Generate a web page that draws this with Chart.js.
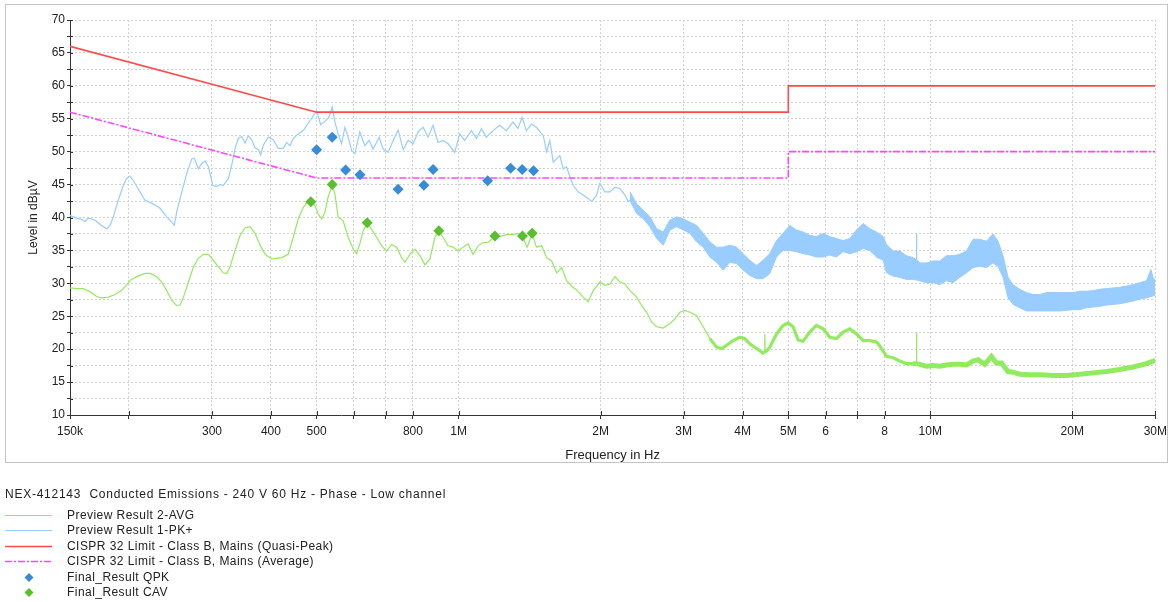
<!DOCTYPE html>
<html><head><meta charset="utf-8">
<script src="https://cdn.jsdelivr.net/npm/chart.js@4.4.1/dist/chart.umd.min.js"></script>
<style>
html,body{margin:0;padding:0;background:#fff;}
#wrap{position:relative;width:1172px;height:602px;overflow:hidden;background:#fff;}
canvas{position:absolute;left:0;top:0;}
.lg{position:absolute;font-family:"Liberation Sans",Arial,sans-serif;font-size:12px;color:#222;line-height:14px;white-space:pre;letter-spacing:0.45px;}
.lg.t{letter-spacing:0.75px;}
.sw{position:absolute;}
</style></head><body>
<div id="wrap"><canvas id="c" width="1172" height="602"></canvas></div>
<script>
// ---------- data (frequencies in kHz, levels in dBµV) ----------
const xTickValues = [150,200,300,400,500,600,700,800,1000,2000,3000,4000,5000,6000,7000,8000,10000,20000,30000];
const xTickLabels = ['150k','','300','400','500','','','800','1M','2M','3M','4M','5M','6','','8','10M','20M','30M'];

const freqPk = [150,155,158.8,161.4,164,168,170.8,175,179.5,182.4,185.4,189.4,194.2,197.5,200.7,204,209,216.3,221.7,227.2,232.8,240.5,246.5,249.6,252.6,258.9,265.3,271.8,275.3,280.7,285.5,290.1,294.8,301.1,307,312,317.1,324.9,330.4,335.8,341.2,346.9,352.5,358.3,364.3,370.2,376.2,380.6,385.5,394.9,404.7,414.6,424.9,432,438.9,446.1,453.6,468.4,483.9,495.9,500,509.9,520.7,531.7,539.5,546.6,555.5,564.7,573.9,583.2,593,602.6,617.4,632.6,646.1,658.8,678.4,691.8,708.9,726.4,744.3,762.7,781.5,800.8,820.6,840.9,861.4,882.6,904.4,926.8,949.7,981.2,1005,1030,1065,1091,1118,1145,1183,1222,1263,1304,1336,1363,1392,1427,1462,1500,1511,1536,1561,1587,1613,1639,1666,1694,1722,1749,1792,1837,1883,1914,1961,1993,2042,2093,2145,2198,2253,2288,2345];
const levelPk = [40.3,39.9,39.7,39.4,39.9,39.7,39.4,38.8,38.3,38.8,40.1,42.4,44.7,45.9,46.3,45.7,44.4,42.6,42.3,41.9,41.4,40.1,39.3,38.8,40.9,43.9,46.7,48.9,49.0,47.4,48.2,48.6,47.7,44.9,44.7,45.0,44.9,45.9,48.0,50.5,52.0,52.3,51.3,52.4,51.8,50.6,50.3,49.5,51.0,52.2,51.8,50.5,50.5,51.4,50.9,52.0,52.5,53.2,54.7,55.8,56.2,54.1,54.6,55.3,56.8,54.5,52.7,51.2,53.7,52.2,50.2,49.7,53.0,50.9,51.7,50.4,52.2,50.4,49.9,51.7,53.3,50.3,51.7,51.2,53.0,53.7,52.2,54.0,51.4,51.7,51.2,49.9,52.7,51.7,53.2,52.0,53.5,52.2,53.2,54.0,53.2,54.5,53.5,55.2,53.2,54.2,53.7,52.7,52.5,50.0,51.7,48.4,48.9,49.4,47.4,47.7,46.2,44.9,43.9,43.4,42.9,42.4,43.4,45.2,43.9,43.9,44.6,44.4,43.4,42.4,43.1];

const freqBand = [2308,2385,2463,2545,2630,2716,2805,2899,2994,3093,3196,3300,3410,3523,3638,3759,3884,4011,4143,4281,4421,4568,4720,4874,5036,5204,5373,5552,5737,5925,6122,6326,6534,6751,6976,7204,7444,7691,7944,8077,8339,8616,8902,9194,9340,9350,9360,9500,9816,10137,10473,10821,11176,11548,11931,12322,12731,13154,13584,13920,14264,14617,14978,15476,15990,16515,17064,17631,18209,18815,19440,20077,20745,21435,22137,22873,23634,24408,25220,26058,26912,27806,28730,29360,29672,30000];
const bandHi = [43.9,42.1,41.1,40.1,38.3,37.8,39.6,40.1,39.8,39.3,38.8,37.6,36.3,35.5,35.5,35.8,35.5,34.5,33.5,32.7,33.5,34.5,36.5,37.6,38.8,38.1,37.8,37.3,37.1,37.6,37.1,36.8,36.5,36.8,38.1,39.1,38.3,37.8,37.1,35.9,34.9,34.9,34.2,33.9,33.6,37.6,33.6,33.1,33.1,33.4,33.4,34.2,34.2,34.4,34.9,36.7,36.7,36.4,37.5,36.4,34.2,30.9,29.8,29.1,28.6,28.3,28.3,28.6,28.6,28.6,28.6,28.6,28.8,28.8,28.9,29.1,29.2,29.3,29.4,29.6,29.8,30.1,30.4,32.1,30.9,30.4];
const bandLo = [42.6,40.6,39.8,38.6,36.8,35.8,38.1,38.6,38.1,37.6,36.3,35.5,34.0,33.2,32.0,33.2,33.0,32.0,31.2,30.7,30.7,31.5,34.0,35.0,35.0,34.8,34.5,34.3,34.0,34.0,34.3,34.0,34.8,34.5,34.8,35.3,35.0,34.0,33.5,31.6,31.1,30.9,30.6,30.6,30.5,30.5,30.5,30.4,30.1,30.1,29.8,30.4,30.1,30.9,31.6,32.4,32.6,32.4,33.1,32.6,30.9,27.8,26.8,26.3,25.8,25.8,25.8,25.8,25.8,25.8,25.9,26.0,26.0,26.3,26.4,26.5,26.7,26.8,26.9,27.1,27.3,27.6,27.8,28.0,28.1,28.1];

const freqAvg = [150,155,160.1,165.4,170.8,175,180.9,186.9,192.7,197.5,202.3,209,216.3,221.7,229.1,234.7,240.5,246.5,252.6,256.8,261,267.4,274,280.7,287.7,294.8,302.1,309.5,317.1,322.4,327.7,335.8,344.2,352.5,361.3,370.2,379.4,388.8,401.6,411.5,421.6,435.2,446.1,457.1,468.4,480,486.3,495.9,504,512.4,520.7,528.8,539.5,546.6,555.5,569.2,583.2,597.9,607.9,617.4,627.8,640.1,654,670.2,686.7,703.7,721.1,738.9,757.2,769.5,788.5,807.9,827.9,848.3,869.3,890.8,908.4,926.8,949.7,973.2,997.3,1021.9,1047,1073,1100,1127,1155,1193,1222,1263,1304,1336,1366,1397,1432,1462,1500,1537,1575,1614,1654,1694,1736,1779,1837,1883,1929,1993,2042,2093,2145,2198,2253,2308,2385,2444,2504,2567,2630,2716,2805,2875,2946,3019,3093,3196,3300,3410,3523,3610,3699,3820,3947,4044,4143,4281,4421,4450,4458,4466,4568,4720,4874,4995,5118,5245,5373,5552,5737,5925,6122,6326,6534,6751,6976,7204,7444,7691,7817,8077,8339,8616,8902,9194,9340,9350,9360,9500,9816,10137,10473,10821,11176,11548,11931,12322,12626,13046,13479,13812,14153,14617,14978,15476,16250,17064,18209,19440,20745,22137,23634,25220,26912,28730,30000];
const levelAvg = [29.3,29.2,29.2,28.7,28.0,27.8,27.9,28.3,28.9,29.7,30.6,31.1,31.5,31.5,31.0,30.2,28.9,27.4,26.6,26.7,27.9,30.2,32.5,33.8,34.4,34.4,33.5,32.5,31.6,31.5,32.5,35.0,37.3,38.4,38.6,37.6,35.8,34.4,33.7,33.8,33.9,34.4,37.0,39.8,41.5,42.6,42.4,41.8,40.5,39.8,40.8,43.1,44.9,43.6,40.0,39.5,37.0,35.2,34.5,36.0,38.0,39.2,38.2,37.0,35.7,34.9,35.9,35.5,33.9,33.2,34.4,35.2,34.2,32.8,33.7,37.0,37.9,37.0,35.7,35.5,34.9,35.5,36.0,34.4,35.7,36.2,36.2,37.1,37.1,37.4,37.4,37.6,37.1,35.5,37.5,35.5,35.7,33.9,33.4,31.6,32.4,30.4,29.6,29.0,27.9,27.2,28.9,30.2,29.7,29.9,31.0,30.2,29.9,28.9,27.9,26.6,25.6,24.1,23.4,23.2,23.9,24.6,25.6,25.9,25.6,25.1,23.4,21.6,20.3,20.1,20.6,21.3,21.8,21.6,20.8,20.1,19.4,19.5,22.3,19.5,20.3,22.3,23.6,24.0,23.4,21.4,21.2,22.6,23.6,23.1,21.8,21.6,22.6,23.1,22.3,21.3,21.3,21.1,20.5,18.9,18.7,18.2,17.8,17.8,17.8,22.5,17.8,17.7,17.4,17.5,17.4,17.6,17.7,17.7,17.6,18.2,18.4,17.7,18.9,17.9,17.9,16.6,16.5,16.2,16.1,16.1,16.0,16.0,16.2,16.4,16.6,16.9,17.3,17.8,18.3];

const limitFreq = [150,500,5000,5000,30000];
const qpLimit = [66,56,56,60,60];
const avLimit = [56,46,46,50,50];

const qpkFreq = [500,539.5,576,618,744,844,883,1152,1289,1364,1442];
const qpkLevel = [50.3,52.2,47.2,46.5,44.3,44.9,47.3,45.6,47.5,47.3,47.1];
const cavFreq = [486,539.5,640,908,1194,1366,1432];
const cavLevel = [42.4,45.0,39.2,38.0,37.2,37.2,37.6];

const legendTitle = 'NEX-412143  Conducted Emissions - 240 V 60 Hz - Phase - Low channel';
const legendLabels = ['Preview Result 2-AVG','Preview Result 1-PK+','CISPR 32 Limit - Class B, Mains (Quasi-Peak)','CISPR 32 Limit - Class B, Mains (Average)','Final_Result QPK','Final_Result CAV'];

// ---------- styles ----------
const C_PK = 'rgb(153,204,255)';
const C_AVG = 'rgb(145,235,95)';
const C_RED = 'rgb(255,75,75)';
const C_MAG = 'rgb(255,70,255)';
const C_QPK = 'rgb(55,140,215)';
const C_CAV = 'rgb(90,190,45)';
const FONT = '"Liberation Sans", Arial, sans-serif';

const pts = (f, v) => f.map((k, i) => ({x: k * 1000, y: v[i]}));

Chart.defaults.font.family = FONT;
Chart.defaults.color = '#222';

const boxPlugin = {
  id: 'box',
  beforeDraw(chart) {
    const c = chart.ctx;
    c.save();
    c.fillStyle = '#fff';
    c.fillRect(0, 0, chart.width, chart.height);
    c.strokeStyle = '#c4c4c4';
    c.lineWidth = 1;
    c.strokeRect(5.5, 4.5, 1162, 458);
    c.restore();
  },
  afterDraw(chart) {
    const c = chart.ctx, a = chart.chartArea;
    const xs = chart.scales.x, ys = chart.scales.y;
    c.save();
    c.strokeStyle = '#333';
    c.lineWidth = 1;
    c.beginPath();
    xs.ticks.forEach(t => { const p = Math.round(xs.getPixelForValue(t.value)) + 0.5; c.moveTo(p, a.bottom); c.lineTo(p, a.bottom - 4); });
    ys.ticks.forEach(t => { const p = Math.round(ys.getPixelForValue(t.value)) + 0.5; c.moveTo(a.left, p); c.lineTo(a.left + 3, p); });
    c.stroke();
    c.restore();
  }
};

new Chart(document.getElementById('c'), {
  type: 'line',
  data: {
    datasets: [
      {label: legendLabels[4], data: pts(qpkFreq, qpkLevel), showLine: false, pointStyle: 'rectRot', pointRadius: 5.5, pointBackgroundColor: C_QPK, pointBorderColor: C_QPK, pointBorderWidth: 0, order: 0},
      {label: legendLabels[5], data: pts(cavFreq, cavLevel), showLine: false, pointStyle: 'rectRot', pointRadius: 5.5, pointBackgroundColor: C_CAV, pointBorderColor: C_CAV, pointBorderWidth: 0, order: 0},
      {label: legendLabels[2], data: pts(limitFreq, qpLimit), borderColor: C_RED, borderWidth: 1.6, pointRadius: 0, fill: false, order: 1},
      {label: legendLabels[3], data: pts(limitFreq, avLimit), borderColor: C_MAG, borderWidth: 1.6, borderDash: [7, 2, 2, 2], pointRadius: 0, fill: false, order: 1},
      {label: legendLabels[0], data: pts(freqAvg, levelAvg), borderColor: C_AVG, borderWidth: 1.2, pointRadius: 0, fill: false, order: 2,
        segment: {borderWidth: s => {
          const dx = s.p1.parsed.x - s.p0.parsed.x, dy = Math.abs(s.p1.parsed.y - s.p0.parsed.y);
          if (dy > 2 && dx < 30000) return 1.2;
          const f = s.p0.parsed.x;
          return f >= 9e6 ? 5 : (f >= 3.4e6 ? 3.2 : 1.2);
        }}},
      {label: legendLabels[1], data: pts(freqPk, levelPk), borderColor: C_PK, borderWidth: 1.2, pointRadius: 0, fill: false, order: 3},
      {label: 'PK band upper', data: pts(freqBand, bandHi), borderColor: C_PK, borderWidth: 1, backgroundColor: C_PK, pointRadius: 0, fill: '+1', order: 4},
      {label: 'PK band lower', data: pts(freqBand, bandLo), borderColor: C_PK, borderWidth: 1, pointRadius: 0, fill: false, order: 4}
    ]
  },
  options: {
    responsive: false,
    animation: false,
    events: [],
    layout: {padding: {left: 0, right: 12, top: 20, bottom: 138}},
    elements: {line: {tension: 0}},
    plugins: {legend: {display: false}, tooltip: {enabled: false}},
    scales: {
      x: {
        type: 'logarithmic', min: 150000, max: 30000000,
        afterBuildTicks: s => { s.ticks = xTickValues.map(v => ({value: v * 1000})); },
        afterFit: s => { s.height = 49; },
        ticks: {autoSkip: false, maxRotation: 0, padding: 5, color: '#222', font: {size: 12}, callback: (v, i) => xTickLabels[i]},
        grid: {color: '#d2d2d2', lineWidth: 1, tickColor: '#333', tickLength: 4},
        border: {color: '#333', width: 1, dash: [2, 2]},
        title: {display: true, text: 'Frequency in Hz', color: '#222', font: {size: 13}, padding: {top: 0, bottom: 1}}
      },
      y: {
        min: 10, max: 70,
        afterFit: s => { s.width = 70; },
        ticks: {stepSize: 2.5, autoSkip: false, padding: 2, color: '#222', font: {size: 12}, callback: v => (v % 5 === 0 ? v : '')},
        grid: {color: '#d2d2d2', lineWidth: 1, tickColor: '#333', tickLength: 3},
        border: {color: '#333', width: 1, dash: [2, 2]},
        title: {display: true, text: 'Level in dBµV', color: '#222', font: {size: 12}, padding: {top: 26, bottom: 0}}
      }
    }
  },
  plugins: [boxPlugin]
});

// ---------- legend ----------
const wrap = document.getElementById('wrap');
function addText(txt, left, top, cls) {
  const d = document.createElement('div');
  d.className = 'lg' + (cls ? ' ' + cls : ''); d.textContent = txt;
  d.style.left = left + 'px'; d.style.top = top + 'px';
  wrap.appendChild(d);
}
function addSwatch(svg, top) {
  const d = document.createElement('div');
  d.className = 'sw'; d.style.left = '5px'; d.style.top = top + 'px';
  d.innerHTML = '<svg width="48" height="14" xmlns="http://www.w3.org/2000/svg">' + svg + '</svg>';
  wrap.appendChild(d);
}
addText(legendTitle, 5, 487, 't');
const rowTops = [508, 523, 539, 554, 570, 585];
const swatches = [
  '<line x1="0" y1="7.5" x2="47" y2="7.5" stroke="' + C_AVG + '" stroke-width="1.2"/>',
  '<line x1="0" y1="7.5" x2="47" y2="7.5" stroke="' + C_PK + '" stroke-width="1.2"/>',
  '<line x1="0" y1="7.5" x2="47" y2="7.5" stroke="' + C_RED + '" stroke-width="1.6"/>',
  '<line x1="0" y1="7.5" x2="47" y2="7.5" stroke="' + C_MAG + '" stroke-width="1.6" stroke-dasharray="7 2 2 2"/>',
  '<polygon points="24,3 28.5,7.5 24,12 19.5,7.5" fill="' + C_QPK + '"/>',
  '<polygon points="24,3 28.5,7.5 24,12 19.5,7.5" fill="' + C_CAV + '"/>'
];
legendLabels.forEach((t, i) => { addSwatch(swatches[i], rowTops[i]); addText(t, 67, rowTops[i]); });
</script>
</body></html>
